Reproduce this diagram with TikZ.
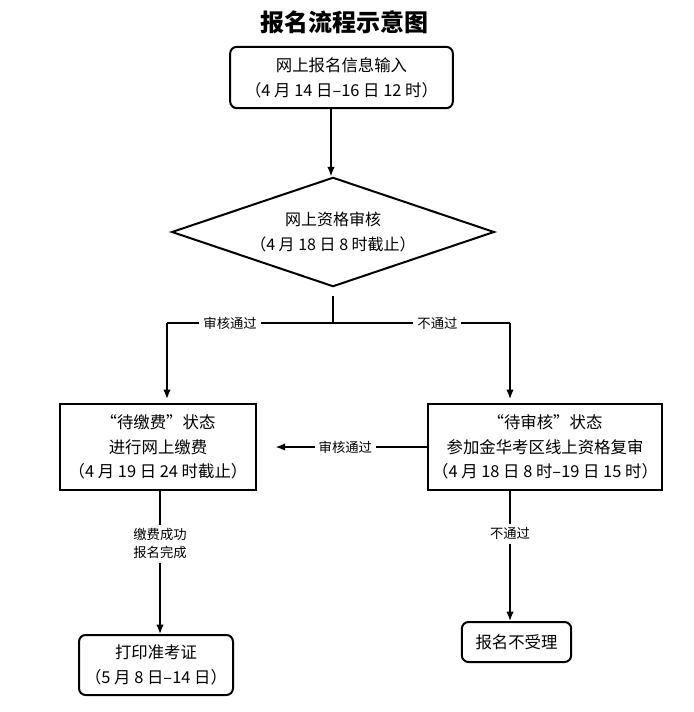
\documentclass[tikz,border=0pt]{standalone}
\usepackage{fontspec}
\setmainfont{Noto Sans CJK SC}
\usetikzlibrary{arrows.meta,shapes.geometric}

\begin{document}
\begin{tikzpicture}[x=0.75pt, y=-0.75pt,
  box/.style={rectangle, draw, line width=1.5pt, align=center, inner sep=2pt, font=\fontsize{12.3}{18.5}\selectfont},
  rbox/.style={box, rounded corners=5pt},
  lbl/.style={fill=white, inner sep=3pt, align=center, font=\fontsize{10}{13.5}\selectfont},
  flow/.style={-{Latex[length=7pt,width=5.5pt]}, line width=1pt}]
  \useasboundingbox (0,0) rectangle (693,712);
  % Nodes
  \node (title) at (344, 22) {\fontsize{18}{20}\selectfont\bfseries 报名流程示意图};
  \node (input) [rbox, minimum width=167pt, minimum height=46pt] at (341.5, 77.5) {网上报名信息输入\\（4 月 14 日–16 日 12 时）};
  \node (check) [diamond, draw, line width=1.5pt, aspect=3, inner sep=0pt, align=center,
    font=\fontsize{12}{18.5}\selectfont, minimum width=242pt, minimum height=82pt] at (333, 232) {网上资格审核\\（4 月 18 日 8 时截止）};
  \node (pay) [box, minimum width=147pt, minimum height=64.5pt] at (158, 447) {“待缴费”状态\\进行网上缴费\\（4 月 19 日 24 时截止）};
  \node (review) [box, minimum width=175.5pt, minimum height=64.5pt] at (545, 447) {“待审核”状态\\参加金华考区线上资格复审\\（4 月 18 日 8 时–19 日 15 时）};
  \node (print) [rbox, minimum width=115.5pt, minimum height=45pt] at (156, 665) {打印准考证\\（5 月 8 日–14 日）};
  \node (reject) [rbox, minimum width=82pt, minimum height=30pt] at (516.5, 642) {报名不受理};
  \coordinate (split) at (333, 323);
  \coordinate (passL) at (167, 323);
  \coordinate (failR) at (510, 323);
  % Arrows
  \draw[flow] (input.south -| 331, 0) -- (check.north -| 331, 0);
  \draw[line width=1pt] ([yshift=-6pt]check.south) -- (split);
  \draw[line width=1pt] (split) -- node[lbl, pos=0.62] {审核通过} (passL);
  \draw[flow, shorten >=3pt] (passL) -- (passL |- pay.north);
  \draw[line width=1pt] (split) -- node[lbl, pos=0.59] {不通过} (failR);
  \draw[flow, shorten >=3pt] (failR) -- (failR |- review.north);
  \draw[flow, shorten >=14pt] (review.west) -- node[lbl, pos=0.48] {审核通过} (pay.east);
  \draw[flow] (pay.south -| 160, 0) -- node[lbl, pos=0.37] {缴费成功\\报名完成} (print.north -| 160, 0);
  \draw[flow] (review.south -| failR) -- node[lbl, pos=0.33] {不通过} (reject.north -| failR);
\end{tikzpicture}
\end{document}
